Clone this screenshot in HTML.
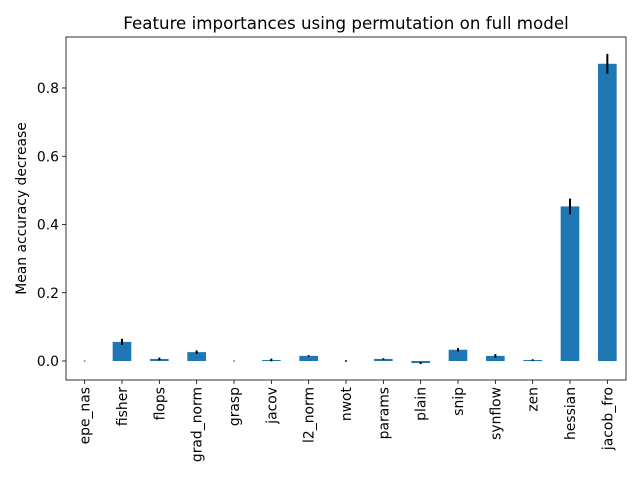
<!DOCTYPE html>
<html><head><meta charset="utf-8"><style>body{margin:0;background:#fff}svg text{font-family:"DejaVu Sans","Liberation Sans",sans-serif;}</style></head>
<body>
<svg id="chart" width="640" height="480"></svg>
<script>
const categories=["epe_nas","fisher","flops","grad_norm","grasp","jacov","l2_norm","nwot","params","plain","snip","synflow","zen","hessian","jacob_fro"];
const values=[0,0.056,0.006,0.026,0,0.003,0.015,0,0.006,-0.006,0.033,0.015,0.003,0.453,0.871];
const errors=[0.001,0.009,0.004,0.005,0.001,0.004,0.002,0.002,0.002,0.003,0.005,0.005,0.002,0.023,0.029];
const yTicks=[0,0.2,0.4,0.6,0.8];
const yTickLabels=["0.0","0.2","0.4","0.6","0.8"];
const NS="http://www.w3.org/2000/svg",svg=document.getElementById('chart');
const L=66,R=626,T=37,B=380;
const y=v=>361-v*341.25;
const step=(R-L)/categories.length;
const x=i=>L+step*(i+0.5);
function mk(t,a,txt){const e=document.createElementNS(NS,t);for(const k in a)e.setAttribute(k,a[k]);if(txt!==undefined)e.textContent=txt;svg.appendChild(e);return e;}
categories.forEach((c,i)=>{
 const v=values[i],top=Math.min(y(v),y(0)),h=Math.abs(y(v)-y(0));
 const b=mk('rect',{x:x(i)-step/4,y:top,width:step/2,height:h,fill:'#1f77b4'});
 
 
 const e=mk('line',{x1:x(i),x2:x(i),y1:y(v-errors[i]),y2:y(v+errors[i]),stroke:'#000','stroke-width':2});
 
 
 const tk=mk('line',{x1:x(i),x2:x(i),y1:B,y2:B+4,stroke:'#000','stroke-width':0.8});
 
 
 const tl=mk('text',{x:0,y:0,'font-size':13.9,'text-anchor':'end',transform:`translate(${x(i)+5},${B+7}) rotate(-90)`},c);
 
 
});
yTicks.forEach((t,i)=>{
 const tk=mk('line',{x1:L-4,x2:L,y1:y(t),y2:y(t),stroke:'#000','stroke-width':0.8});
 
 
 const tl=mk('text',{x:L-7,y:y(t)+5,'font-size':13.9,'text-anchor':'end'},yTickLabels[i]);
 
 
});
const fr=mk('rect',{x:L,y:T,width:R-L,height:B-T,fill:'none',stroke:'#000','stroke-width':0.8});


const ti=mk('text',{x:(L+R)/2,y:29,'font-size':16.7,'text-anchor':'middle'},'Feature importances using permutation on full model');


const yl=mk('text',{x:0,y:0,'font-size':13.9,'text-anchor':'middle',transform:`translate(26,${(T+B)/2}) rotate(-90)`},'Mean accuracy decrease');


</script>
</body></html>
